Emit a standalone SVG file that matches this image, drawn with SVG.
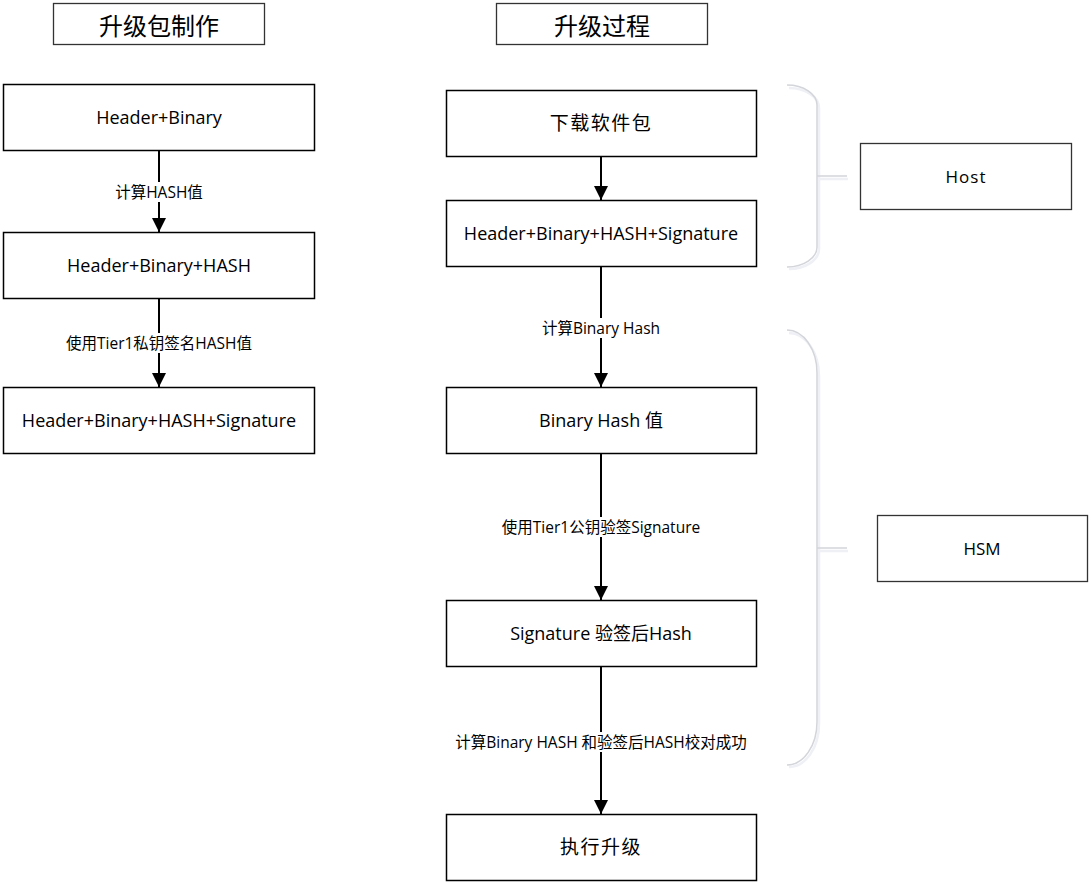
<svg xmlns="http://www.w3.org/2000/svg" width="1091" height="883" viewBox="0 0 1091 883">
<defs>
<marker id="arr" markerWidth="14" markerHeight="14" viewBox="0 0 14 14" refX="14" refY="7" orient="auto" markerUnits="userSpaceOnUse">
<path d="M0,0 L14,7 L0,14 Z" fill="#000"/>
</marker>
</defs>
<style>
.box{fill:#fff;stroke:#000;stroke-width:1.5}
.title{fill:#fff;stroke:#333;stroke-width:1.3}
.t{font-family:"Open Sans","Noto Sans CJK SC",sans-serif;font-size:18px;fill:#000;text-anchor:middle;dominant-baseline:central}
.tt{font-family:"Noto Sans CJK SC",sans-serif;font-size:24px;fill:#000;text-anchor:middle;dominant-baseline:central}
.tc{font-family:"Open Sans","Noto Sans CJK SC",sans-serif;font-size:19px;letter-spacing:1.5px;fill:#000;text-anchor:middle;dominant-baseline:central}
.lbl{font-family:"Open Sans","Noto Sans CJK SC",sans-serif;font-size:15.5px;fill:#000;text-anchor:middle;dominant-baseline:central}
.edge{stroke:#000;stroke-width:2;fill:none;marker-end:url(#arr)}
.brace{fill:none;stroke:#d3d5da;stroke-width:1.5}
.bshadow{fill:none;stroke:#eef0f5;stroke-width:2.5}
.lb{fill:#fff}
</style>

<g id="title-left"><rect class="title" x="53.5" y="3.5" width="211" height="41"/><text class="tt" x="159" y="24">升级包制作</text></g>
<g id="title-right"><rect class="title" x="496.5" y="3.5" width="211" height="41"/><text class="tt" x="602" y="24">升级过程</text></g>

<g id="connectors">
<line class="edge" x1="159" y1="150" x2="159" y2="232"/>
<line class="edge" x1="159" y1="298" x2="159" y2="387"/>
<line class="edge" x1="601" y1="156" x2="601" y2="200"/>
<line class="edge" x1="601" y1="266" x2="601" y2="387"/>
<line class="edge" x1="601" y1="453" x2="601" y2="600"/>
<line class="edge" x1="601" y1="666" x2="601" y2="814"/>
<rect class="lb" x="110" y="182" width="98" height="20"/>
<text class="lbl" x="159" y="192">计算HASH值</text>
<rect class="lb" x="62" y="333" width="196" height="20"/>
<text class="lbl" x="159" y="343">使用Tier1私钥签名HASH值</text>
<rect class="lb" x="538" y="318" width="126" height="20"/>
<text class="lbl" x="601" y="328">计算Binary Hash</text>
<rect class="lb" x="496" y="517" width="210" height="20"/>
<text class="lbl" x="601" y="527">使用Tier1公钥验签Signature</text>
<rect class="lb" x="452" y="732" width="298" height="20"/>
<text class="lbl" x="601" y="742">计算Binary HASH 和验签后HASH校对成功</text>
</g>

<g id="n-l1"><rect class="box" x="3.5" y="84.5" width="311" height="66"/><text class="t" x="159" y="117">Header+Binary</text></g>
<g id="n-l2"><rect class="box" x="3.5" y="232.5" width="311" height="66"/><text class="t" x="159" y="265">Header+Binary+HASH</text></g>
<g id="n-l3"><rect class="box" x="3.5" y="387.5" width="311" height="66"/><text class="t" x="159" y="420">Header+Binary+HASH+Signature</text></g>

<g id="n-r1"><rect class="box" x="446.5" y="90.5" width="310" height="66"/><text class="tc" x="601" y="123">下载软件包</text></g>
<g id="n-r2"><rect class="box" x="446.5" y="200.5" width="310" height="66"/><text class="t" x="601" y="233">Header+Binary+HASH+Signature</text></g>
<g id="n-r3"><rect class="box" x="446.5" y="387.5" width="310" height="66"/><text class="t" x="601" y="420">Binary Hash 值</text></g>
<g id="n-r4"><rect class="box" x="446.5" y="600.5" width="310" height="66"/><text class="t" x="601" y="633">Signature 验签后Hash</text></g>
<g id="n-r5"><rect class="box" x="446.5" y="814.5" width="310" height="66"/><text class="tc" x="601" y="847">执行升级</text></g>

<g id="brace-host">
<path class="bshadow" d="M789,88 A30,20 0 0 1 819,108 L819,249 A30,20 0 0 1 789,269 M819,179 L848,179"/>
<path class="brace" d="M787,85 A30,20 0 0 1 817,105 L817,247 A30,20 0 0 1 787,267 M817,176 L847,176"/>
</g>
<g id="brace-hsm">
<path class="bshadow" d="M789,333 A30,43 0 0 1 819,376 L819,724 A30,43 0 0 1 789,767 M819,551 L848,551"/>
<path class="brace" d="M787,330 A30,43 0 0 1 817,373 L817,722 A30,43 0 0 1 787,765 M817,548 L847,548"/>
</g>

<g id="n-host"><rect class="title" x="860.5" y="143.5" width="211" height="66"/><text class="t" x="966" y="176" style="font-size:17px;letter-spacing:1px">Host</text></g>
<g id="n-hsm"><rect class="title" x="877.5" y="515.5" width="210" height="66"/><text class="t" x="982" y="548" style="font-size:17px">HSM</text></g>
</svg>
